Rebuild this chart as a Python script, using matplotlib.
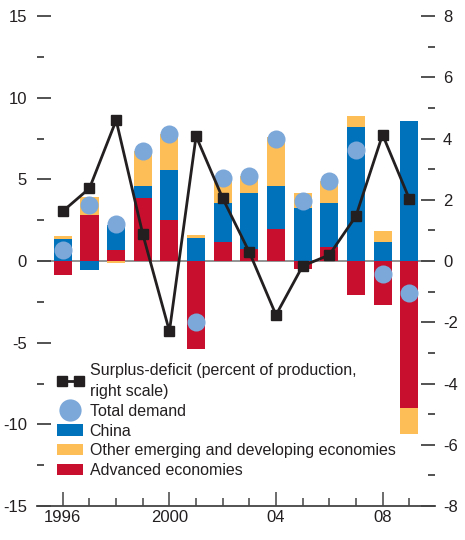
import matplotlib
matplotlib.use("Agg")
import matplotlib.pyplot as plt
from matplotlib.lines import Line2D
from matplotlib.patches import Patch
from matplotlib.legend_handler import HandlerLine2D
from matplotlib.ticker import MultipleLocator, FixedLocator

plt.rcParams['font.family'] = ['Liberation Sans', 'DejaVu Sans']
plt.rcParams['axes.unicode_minus'] = False

years = [1996, 1997, 1998, 1999, 2000, 2001, 2002, 2003, 2004, 2005, 2006, 2007, 2008, 2009]
advanced = [-0.86, 2.82, 0.67, 3.86, 2.51, -5.37, 1.18, 0.73, 1.96, -0.51, 0.86, -2.10, -2.71, -8.98]
china = [1.35, -0.53, 1.55, 0.74, 3.06, 1.41, 2.36, 3.43, 2.63, 3.24, 2.70, 8.20, 1.16, 8.57]
other = [0.20, 1.10, -0.10, 2.14, 2.20, 0.18, 1.53, 1.04, 3.00, 0.92, 1.34, 0.67, 0.67, -1.63]
total_demand = [0.70, 3.43, 2.26, 6.74, 7.80, -3.72, 5.10, 5.20, 7.50, 3.67, 4.90, 6.82, -0.78, -1.98]
surplus = [1.63, 2.38, 4.60, 0.88, -2.29, 4.08, 2.05, 0.29, -1.76, -0.16, 0.20, 1.47, 4.13, 2.04]

xtick_pos = [1996, 2000, 2004, 2008]
xtick_labels = ["1996", "2000", "04", "08"]
left_ticks = [-15, -10, -5, 0, 5, 10, 15]
right_ticks = [-8, -6, -4, -2, 0, 2, 4, 6, 8]

c_blue = "#0072BC"
c_yellow = "#FDBE57"
c_red = "#C8102E"
c_circle = "#7BA7D9"
c_line = "#231F20"
c_text = "#231F20"
c_axis = "#444444"

fig = plt.figure(figsize=(4.65, 5.4), dpi=100)
ax = fig.add_axes([0.0796, 0.063, 0.856, 0.907])

w = 0.68
pos_base = [0.0] * len(years)
neg_base = [0.0] * len(years)
for vals, col in [(advanced, c_red), (china, c_blue), (other, c_yellow)]:
    bottoms = []
    for i, v in enumerate(vals):
        if v >= 0:
            bottoms.append(pos_base[i]); pos_base[i] += v
        else:
            bottoms.append(neg_base[i]); neg_base[i] += v
    ax.bar(years, vals, width=w, bottom=bottoms, color=col, zorder=2, linewidth=0)

ax.axhline(0, color="#8a8a8a", lw=1.3, zorder=1)
ax.plot(years, total_demand, 'o', color=c_circle, markersize=13, markeredgewidth=0, zorder=3)

ax.set_xlim(1995.03, 2009.97)
ax.set_ylim(-15, 15)
ax.set_yticks(left_ticks)
ax.set_yticklabels([str(v) for v in left_ticks])
ax.yaxis.set_minor_locator(MultipleLocator(2.5))
ax.xaxis.set_major_locator(FixedLocator(xtick_pos))
ax.set_xticklabels(xtick_labels)
ax.xaxis.set_minor_locator(FixedLocator(years))

for s in ["top", "right", "left"]:
    ax.spines[s].set_visible(False)
ax.spines["bottom"].set_color(c_axis)
ax.spines["bottom"].set_linewidth(1.3)

ax.tick_params(axis='y', which='major', direction='in', length=10, width=1.3, pad=7.2, labelsize=12, colors=c_axis, labelcolor=c_text)
ax.tick_params(axis='y', which='minor', direction='in', length=5, width=1.3, colors=c_axis)
ax.tick_params(axis='x', which='major', direction='in', length=10, width=1.1, pad=3, labelsize=12, colors=c_axis, labelcolor=c_text)
ax.tick_params(axis='x', which='minor', direction='in', length=6, width=1.1, colors=c_axis)

ax2 = ax.twinx()
ax2.set_ylim(-8, 8)
ax2.set_yticks(right_ticks)
ax2.set_yticklabels([str(v) for v in right_ticks])
ax2.yaxis.set_minor_locator(MultipleLocator(1))
for s in ["top", "right", "left", "bottom"]:
    ax2.spines[s].set_visible(False)
ax2.tick_params(axis='y', which='major', direction='in', length=10, width=1.3, pad=5.8, labelsize=12, colors=c_axis, labelcolor=c_text)
ax2.tick_params(axis='y', which='minor', direction='in', length=5, width=1.3, colors=c_axis)
ax2.plot(years, surplus, '-s', color=c_line, lw=2, markersize=7, zorder=4)

handles = [
    Line2D([], [], color=c_line, lw=2, marker='s', markersize=7),
    Line2D([], [], color=c_circle, lw=0, marker='o', markersize=16, markeredgewidth=0),
    Patch(facecolor=c_blue),
    Patch(facecolor=c_yellow),
    Patch(facecolor=c_red),
]
labels = [
    "Surplus-deficit (percent of production,\nright scale)",
    "Total demand",
    "China",
    "Other emerging and developing economies",
    "Advanced economies",
]
leg = ax2.legend(handles, labels, loc='upper left', bbox_to_anchor=(57/465, 1 - 363/540),
                 bbox_transform=fig.transFigure, frameon=False, fontsize=11.5,
                 handlelength=1.65, handleheight=0.7, handletextpad=0.4, labelspacing=0.3,
                 borderpad=0, borderaxespad=0, numpoints=2,
                 handler_map={handles[1]: HandlerLine2D(numpoints=1)})
for t in leg.get_texts():
    t.set_color(c_text)
leg.get_texts()[0].set_linespacing(1.5)

fig.savefig("out.png", dpi=100)
